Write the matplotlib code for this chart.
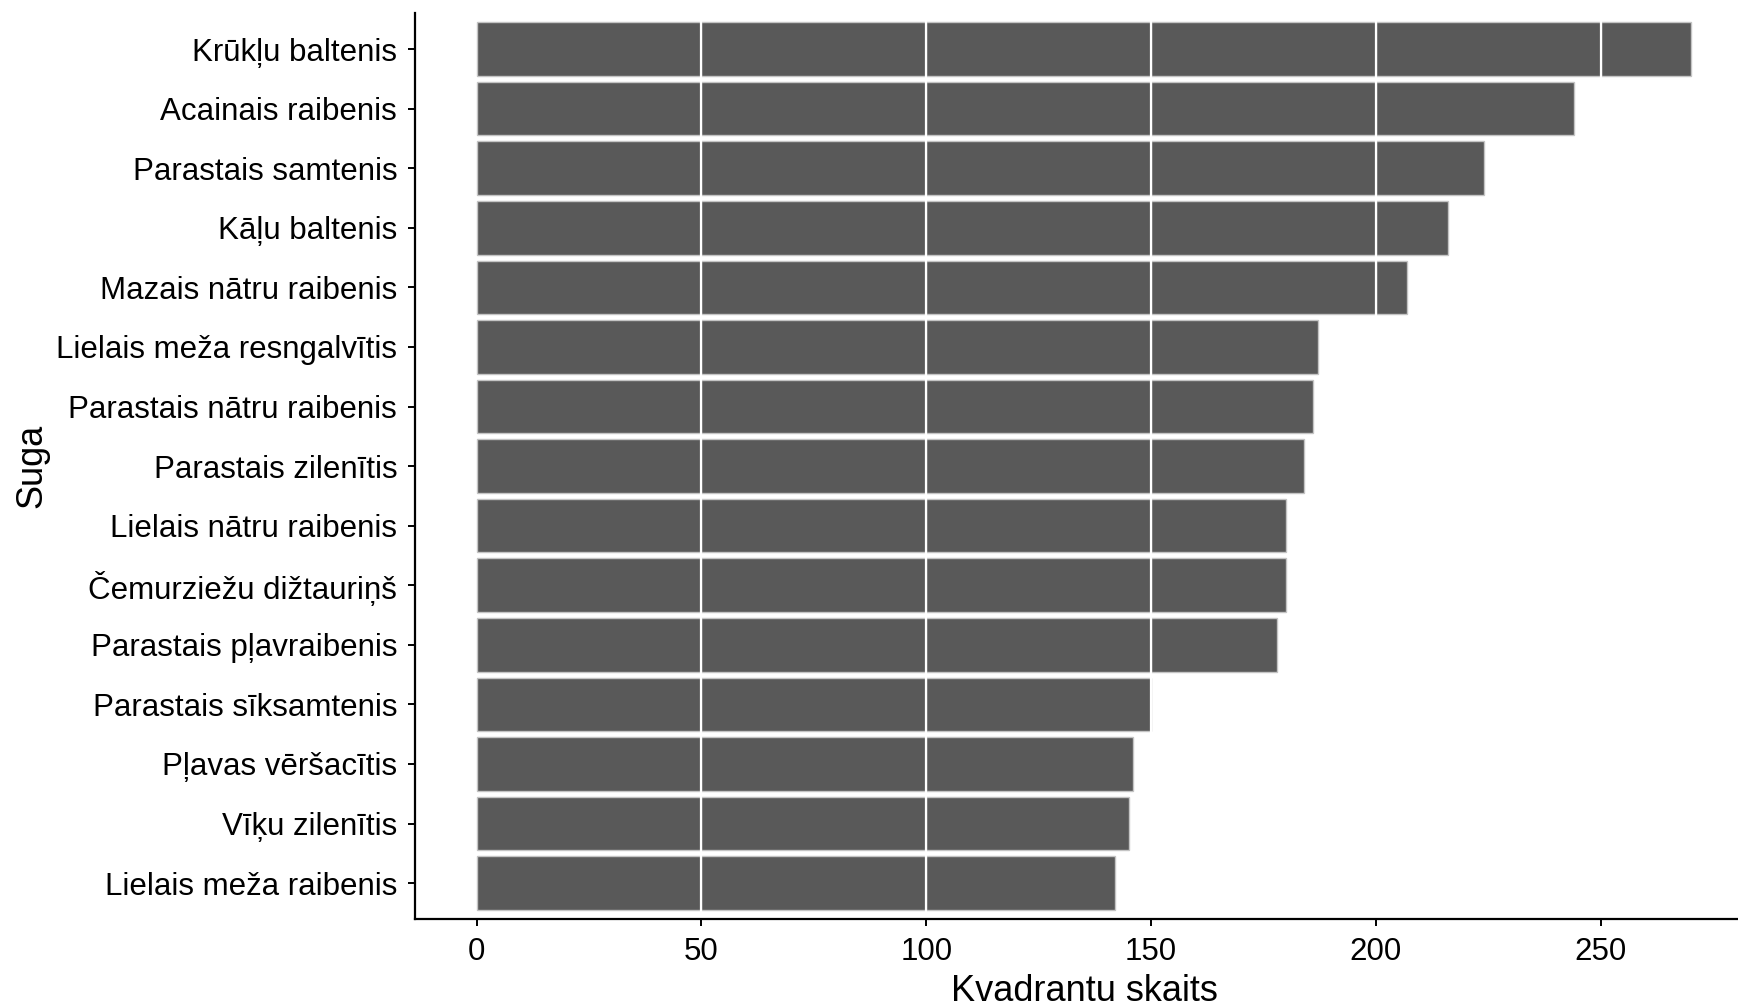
import matplotlib
matplotlib.use("Agg")
import matplotlib.pyplot as plt
import numpy as np

plt.rcParams['font.family'] = ['Liberation Sans', 'DejaVu Sans']

species = [
    "Krūkļu baltenis",
    "Acainais raibenis",
    "Parastais samtenis",
    "Kāļu baltenis",
    "Mazais nātru raibenis",
    "Lielais meža resngalvītis",
    "Parastais nātru raibenis",
    "Parastais zilenītis",
    "Lielais nātru raibenis",
    "Čemurziežu dižtauriņš",
    "Parastais pļavraibenis",
    "Parastais sīksamtenis",
    "Pļavas vēršacītis",
    "Vīķu zilenītis",
    "Lielais meža raibenis",
]
counts = [270, 244, 224, 216, 207, 187, 186, 184, 180, 180, 178, 150, 146, 145, 142]
x_ticks = [0, 50, 100, 150, 200, 250]

fig = plt.figure(figsize=(17.38, 10.07), dpi=100)
ax = fig.add_axes([0.2385, 0.0875, 0.7615, 0.8993])

ypos = np.arange(len(species))[::-1] + 1
step = 50
for y, v in zip(ypos, counts):
    # bars come in 50-wide blocks, like in the original
    start = 0
    while start < v:
        w = min(step, v - start)
        ax.barh(y, w, left=start, height=0.9, color="#595959",
                edgecolor="#c4c4c4", linewidth=1.0, zorder=2)
        start += w

for t in x_ticks[1:]:
    ax.axvline(t, color="white", lw=1.6, zorder=3)

ax.set_xlim(-13.8, 280.5)
ax.set_ylim(0.4, len(species) + 0.6)
ax.set_xticks(x_ticks)
ax.set_yticks(ypos)
ax.set_yticklabels(species)

for s in ["top", "right"]:
    ax.spines[s].set_visible(False)
for s in ["left", "bottom"]:
    ax.spines[s].set_linewidth(1.6)
    ax.spines[s].set_zorder(5)

ax.tick_params(axis="both", length=5, width=1.4, labelsize=22.5, colors="black")
ax.tick_params(axis="x", pad=8)
ax.tick_params(axis="y", pad=7.5)

ax.set_xlabel("Kvadrantu skaits", fontsize=26, labelpad=5)
ax.xaxis.label.set_x(0.506)
ax.set_ylabel("Suga", fontsize=26, labelpad=5)

fig.savefig("out.png", dpi=100)
